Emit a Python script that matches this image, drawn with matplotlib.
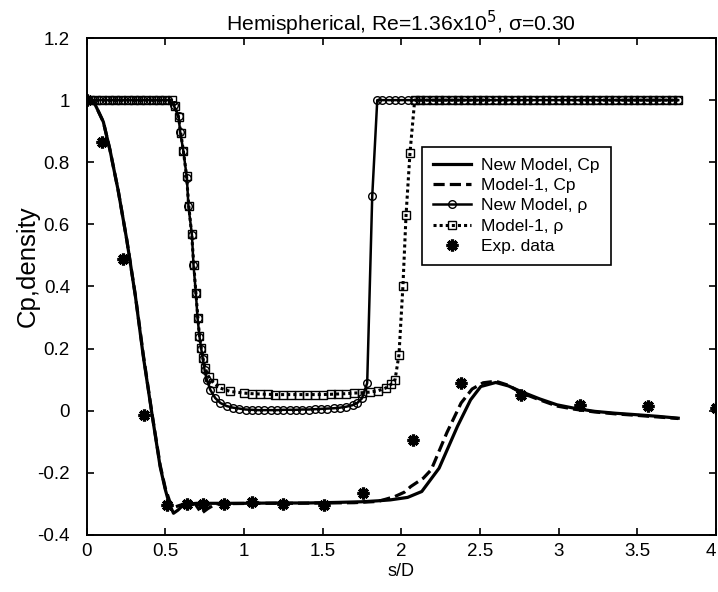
import matplotlib
matplotlib.use("Agg")
import matplotlib.pyplot as plt

plt.rcParams['font.family'] = ['Liberation Sans', 'DejaVu Sans']
plt.rcParams['axes.unicode_minus'] = False

# Cp, new model (solid)
cp_new_x = [0.00, 0.05, 0.106, 0.148, 0.20, 0.255, 0.31, 0.36, 0.414, 0.467, 0.50, 0.525,
            0.552, 0.58, 0.615, 0.65, 0.70, 0.80, 1.00, 1.20, 1.40, 1.60, 1.75, 1.85, 1.93,
            2.04, 2.13, 2.24, 2.357, 2.44, 2.505, 2.60, 2.68, 2.76, 2.88, 2.99, 3.10, 3.23,
            3.36, 3.50, 3.63, 3.76]
cp_new_y = [1.00, 0.99, 0.93, 0.84, 0.71, 0.55, 0.368, 0.175, -0.007, -0.18, -0.254, -0.30,
            -0.33, -0.32, -0.303, -0.300, -0.298, -0.298, -0.298, -0.297, -0.297, -0.295, -0.293, -0.29, -0.287,
            -0.279, -0.26, -0.185, -0.05, 0.035, 0.078, 0.091, 0.08, 0.062, 0.038, 0.019, 0.008, -0.002,
            -0.008, -0.013, -0.018, -0.024]

# Cp, Model-1 (dashed)
cp_m1_x = [0.00, 0.05, 0.106, 0.148, 0.20, 0.255, 0.31, 0.36, 0.414, 0.467, 0.50, 0.53,
           0.56, 0.62, 0.69, 0.73, 0.77, 0.82, 0.90, 1.10, 1.30, 1.50, 1.70, 1.85, 1.90,
           1.96, 2.02, 2.06, 2.14, 2.19, 2.29, 2.38, 2.45, 2.52, 2.60, 2.68, 2.76, 2.88,
           2.99, 3.10, 3.23, 3.36, 3.50, 3.63, 3.76]
cp_m1_y = [1.00, 0.99, 0.93, 0.84, 0.71, 0.55, 0.37, 0.18, -0.005, -0.175, -0.25, -0.295,
           -0.31, -0.30, -0.30, -0.33, -0.315, -0.30, -0.299, -0.298, -0.298, -0.297, -0.296, -0.292, -0.285,
           -0.276, -0.262, -0.244, -0.217, -0.19, -0.07, 0.025, 0.07, 0.09, 0.095, 0.082, 0.058, 0.035,
           0.015, 0.005, -0.004, -0.010, -0.015, -0.020, -0.025]

# density, new model (solid + circles)
rho_new_x = [0.00, 0.04, 0.08, 0.12, 0.16, 0.20, 0.24, 0.28, 0.32, 0.36, 0.40, 0.44, 0.48, 0.52,
             0.552, 0.584, 0.594, 0.615, 0.637, 0.647, 0.669, 0.679, 0.694, 0.705, 0.717, 0.728,
             0.739, 0.750, 0.764, 0.785, 0.817, 0.850, 0.890, 0.930, 0.970, 1.010, 1.050, 1.090,
             1.130, 1.170, 1.210, 1.250, 1.290, 1.330, 1.370, 1.410, 1.450, 1.490, 1.530, 1.570,
             1.610, 1.650, 1.690, 1.720, 1.750, 1.783, 1.815, 1.847,
             1.88, 1.92, 1.96, 2.00, 2.04, 2.08, 2.12, 2.16, 2.20, 2.24, 2.28, 2.32, 2.36, 2.40,
             2.44, 2.48, 2.52, 2.56, 2.60, 2.64, 2.68, 2.72, 2.76, 2.80, 2.84, 2.88, 2.92, 2.96,
             3.00, 3.04, 3.08, 3.12, 3.16, 3.20, 3.24, 3.28, 3.32, 3.36, 3.40, 3.44, 3.48, 3.52,
             3.56, 3.60, 3.64, 3.68, 3.72, 3.76]
rho_new_y = [1.0, 1.0, 1.0, 1.0, 1.0, 1.0, 1.0, 1.0, 1.0, 1.0, 1.0, 1.0, 1.0, 1.0,
             0.985, 0.948, 0.899, 0.835, 0.749, 0.658, 0.567, 0.470, 0.379, 0.298, 0.239, 0.200,
             0.165, 0.130, 0.100, 0.068, 0.041, 0.025, 0.015, 0.010, 0.007, 0.004, 0.003, 0.002,
             0.002, 0.002, 0.002, 0.003, 0.003, 0.003, 0.004, 0.004, 0.005, 0.006, 0.007, 0.008,
             0.010, 0.013, 0.018, 0.025, 0.040, 0.089, 0.690, 1.0,
             1.0, 1.0, 1.0, 1.0, 1.0, 1.0, 1.0, 1.0, 1.0, 1.0, 1.0, 1.0, 1.0, 1.0,
             1.0, 1.0, 1.0, 1.0, 1.0, 1.0, 1.0, 1.0, 1.0, 1.0, 1.0, 1.0, 1.0, 1.0,
             1.0, 1.0, 1.0, 1.0, 1.0, 1.0, 1.0, 1.0, 1.0, 1.0, 1.0, 1.0, 1.0, 1.0,
             1.0, 1.0, 1.0, 1.0, 1.0, 1.0]

# density, Model-1 (dotted + squares)
rho_m1_x = [0.02, 0.06, 0.10, 0.14, 0.18, 0.22, 0.26, 0.30, 0.34, 0.38, 0.42, 0.46, 0.50, 0.54,
            0.560, 0.584, 0.598, 0.615, 0.635, 0.649, 0.667, 0.681, 0.694, 0.707, 0.717, 0.728,
            0.739, 0.753, 0.775, 0.806, 0.849, 0.913, 0.997, 1.05, 1.10, 1.15, 1.20, 1.25,
            1.30, 1.35, 1.40, 1.45, 1.50, 1.55, 1.60, 1.65, 1.70, 1.75, 1.80, 1.85, 1.90,
            1.935, 1.96, 1.985, 2.01, 2.03, 2.055, 2.085,
            2.12, 2.16, 2.20, 2.24, 2.28, 2.32, 2.36, 2.40, 2.44, 2.48, 2.52, 2.56, 2.60, 2.64,
            2.68, 2.72, 2.76, 2.80, 2.84, 2.88, 2.92, 2.96, 3.00, 3.04, 3.08, 3.12, 3.16, 3.20,
            3.24, 3.28, 3.32, 3.36, 3.40, 3.44, 3.48, 3.52, 3.56, 3.60, 3.64, 3.68, 3.72, 3.76]
rho_m1_y = [1.0, 1.0, 1.0, 1.0, 1.0, 1.0, 1.0, 1.0, 1.0, 1.0, 1.0, 1.0, 1.0, 1.0,
            0.98, 0.945, 0.895, 0.835, 0.755, 0.66, 0.57, 0.47, 0.38, 0.30, 0.24, 0.202,
            0.170, 0.137, 0.110, 0.089, 0.073, 0.062, 0.057, 0.055, 0.054, 0.053, 0.052, 0.052,
            0.052, 0.052, 0.052, 0.052, 0.052, 0.053, 0.054, 0.055, 0.057, 0.058, 0.060, 0.064, 0.073,
            0.085, 0.10, 0.18, 0.40, 0.63, 0.83, 1.0,
            1.0, 1.0, 1.0, 1.0, 1.0, 1.0, 1.0, 1.0, 1.0, 1.0, 1.0, 1.0, 1.0, 1.0,
            1.0, 1.0, 1.0, 1.0, 1.0, 1.0, 1.0, 1.0, 1.0, 1.0, 1.0, 1.0, 1.0, 1.0,
            1.0, 1.0, 1.0, 1.0, 1.0, 1.0, 1.0, 1.0, 1.0, 1.0, 1.0, 1.0, 1.0, 1.0]

# experiment
exp_x = [0.00, 0.096, 0.233, 0.365, 0.513, 0.637, 0.74, 0.87, 1.05, 1.25, 1.507, 1.758,
         2.074, 2.378, 2.76, 3.136, 3.567, 4.00]
exp_y = [1.00, 0.864, 0.49, -0.013, -0.303, -0.30, -0.30, -0.30, -0.295, -0.30, -0.302, -0.265,
         -0.093, 0.089, 0.052, 0.019, 0.014, 0.01]

xticks = [0, 0.5, 1, 1.5, 2, 2.5, 3, 3.5, 4]
xticklabels = ['0', '0.5', '1', '1.5', '2', '2.5', '3', '3.5', '4']
yticks = [-0.4, -0.2, 0, 0.2, 0.4, 0.6, 0.8, 1.0, 1.2]
yticklabels = ['-0.4', '-0.2', '0', '0.2', '0.4', '0.6', '0.8', '1', '1.2']

fig = plt.figure(figsize=(7.18, 5.92), dpi=100)
ax = fig.add_axes([0.1207, 0.0963, 0.8765, 0.8395])

ax.plot(cp_new_x, cp_new_y, color='k', lw=2.3, label='New Model, Cp')
ax.plot(cp_m1_x, cp_m1_y, color='k', lw=2.3, ls=(0, (3.5, 1.6)), label='Model-1, Cp')
ax.plot(rho_new_x, rho_new_y, color='k', lw=1.8, marker='o', ms=5.5, mfc='none', mew=1.0,
        label='New Model, \u03c1')
ax.plot(rho_m1_x, rho_m1_y, color='k', lw=2.2, ls=(0, (1, 1)), marker='s', ms=5.5, mfc='none',
        mew=1.0, label='Model-1, \u03c1')
ax.plot(exp_x, exp_y, ls='none', color='k', marker=(8, 2, 0), ms=8.5, mew=2.3,
        label='Exp. data')

ax.set_xlim(0, 4)
ax.set_ylim(-0.4, 1.2)
ax.set_xticks(xticks)
ax.set_xticklabels(xticklabels)
ax.set_yticks(yticks)
ax.set_yticklabels(yticklabels)
ax.tick_params(axis='both', direction='in', length=5, width=1.2, labelsize=13.5,
               top=True, right=True)
ax.tick_params(axis='y', pad=12)
ax.tick_params(axis='x', pad=6)
ax.get_xticklabels()[-1].set_horizontalalignment('right')
for s in ax.spines.values():
    s.set_linewidth(1.4)

ax.set_xlabel('s/D', fontsize=13, labelpad=2)
ax.set_ylabel('Cp,density', fontsize=18.5)
ax.yaxis.set_label_coords(-0.074, 0.54)
ax.set_title('Hemispherical, Re=1.36x10$^5$, \u03c3=0.30', fontsize=15.2, pad=5)

leg = ax.legend(loc='upper left', bbox_to_anchor=(0.533, 0.781), fontsize=12.5,
                frameon=True, fancybox=False, edgecolor='k', framealpha=1,
                handlelength=2.2, handletextpad=0.6, labelspacing=0.3,
                borderpad=0.62, borderaxespad=0)
leg.get_frame().set_linewidth(1.2)

fig.savefig('out.png', dpi=100)
